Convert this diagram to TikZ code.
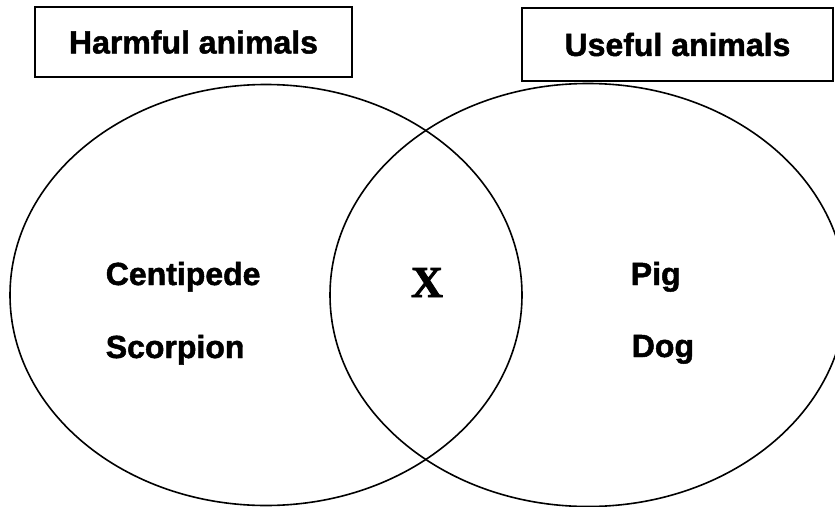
\documentclass[tikz,border=0pt]{standalone}
\usepackage{fontspec}
\setmainfont{Liberation Sans}[BoldFeatures={FakeBold=1.5}]
\newfontfamily\crossfont{Liberation Serif}[BoldFeatures={FakeBold=2}]
\usetikzlibrary{shapes.geometric}

\begin{document}
\begin{tikzpicture}[x=1pt, y=-1pt, line width=1.6pt,
    setname/.style={draw, rectangle, line width=1.4pt, inner sep=0pt,
      font=\fontsize{32}{36}\selectfont\bfseries},
    member/.style={anchor=base west, inner sep=0pt,
      font=\fontsize{32}{36}\selectfont\bfseries},
    animalset/.style={draw, ellipse, inner sep=0pt}]
  \useasboundingbox (0,0) rectangle (835,506);

  % the two sets
  \node[animalset, minimum width=512pt, minimum height=421pt] (harmful) at (266,295) {};
  \node[animalset, minimum width=516pt, minimum height=423pt] (useful) at (588,295) {};

  % headings
  \node[setname, minimum width=317pt, minimum height=70pt] (harmfulname) at (193.5,42) {Harmful animals};
  \node[setname, minimum width=311pt, minimum height=73pt] (usefulname) at (677.5,44.5) {Useful animals};

  % members
  \node[member] (centipede) at (105,285) {Centipede};
  \node[member] (scorpion) at (105,358) {Scorpion};
  \node[anchor=base, inner sep=0pt, font=\fontsize{44}{48}\selectfont\crossfont\bfseries] (cross) at (427,297) {X};
  \node[member] (pig) at (630,285) {Pig};
  \node[member] (dog) at (631,357) {Dog};
\end{tikzpicture}
\end{document}
